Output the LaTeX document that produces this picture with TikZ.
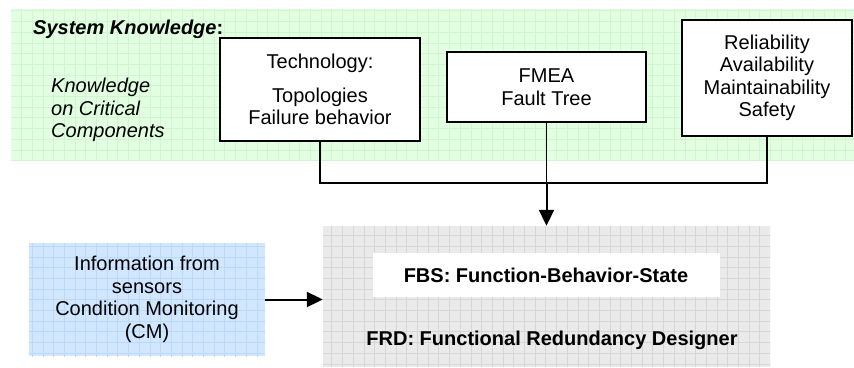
\documentclass[tikz,border=0pt]{standalone}
\usepackage{fontspec}
\setmainfont{Liberation Sans}
\usetikzlibrary{arrows.meta}
\definecolor{greenbg}{RGB}{226,255,226}
\definecolor{greengrid}{RGB}{208,246,208}
\definecolor{bluebg}{RGB}{208,231,255}
\definecolor{bluegrid}{RGB}{188,217,250}
\definecolor{graybg}{RGB}{234,234,234}
\definecolor{graygrid}{RGB}{214,214,214}
\tikzset{
  txt/.style={font=\fontsize{20}{22.5}\selectfont, inner sep=0pt},
  infobox/.style={draw=black, line width=2pt, fill=white, align=center, txt},
  conn/.style={line width=1.5pt},
  arr/.style={line width=2pt, -{Triangle[length=16pt,width=15pt]}},
  gridline/.style={line width=0.6pt},
}
\begin{document}
\begin{tikzpicture}[x=1pt,y=-1pt]
\useasboundingbox (0,0) rectangle (854,367);
% green background region
\fill[greenbg] (11,9) rectangle (854,160);
\begin{scope}
\clip (11,9) rectangle (854,160);
\foreach \i in {0,...,80} {\draw[greengrid, gridline] (10.7*\i,0) -- (10.7*\i,170);}
\foreach \i in {0,...,15} {\draw[greengrid, gridline] (0,10.7*\i) -- (860,10.7*\i);}
\end{scope}
% blue region
\node[fill=bluebg, minimum width=236pt, minimum height=113pt, inner sep=0pt] (blue) at (147,299.5) {};
\begin{scope}
\clip (29,243) rectangle (265,356);
\foreach \i in {0,...,26} {\draw[bluegrid, gridline] (10.7*\i,230) -- (10.7*\i,367);}
\foreach \i in {22,...,34} {\draw[bluegrid, gridline] (0,10.7*\i) -- (280,10.7*\i);}
\end{scope}
\node[txt, align=center] at (blue.center) {Information from\\sensors\\Condition Monitoring\\(CM)};
% gray region
\node[fill=graybg, minimum width=447pt, minimum height=141pt, inner sep=0pt] (gray) at (546.5,296.5) {};
\begin{scope}
\clip (323,226) rectangle (770,367);
\foreach \i in {30,...,73} {\draw[graygrid, gridline] (10.7*\i,220) -- (10.7*\i,367);}
\foreach \i in {21,...,35} {\draw[graygrid, gridline] (320,10.7*\i) -- (780,10.7*\i);}
\end{scope}
\node[fill=white, minimum width=347pt, minimum height=44pt, inner sep=0pt] (fbsbox) at (546.5,275) {};
\node[txt, font=\fontsize{20}{22.5}\selectfont\bfseries, anchor=base] (fbs) at (546,282) {FBS: Function-Behavior-State};
\node[txt, font=\fontsize{20}{22.5}\selectfont\bfseries, anchor=base] (frd) at (552,345) {FRD: Functional Redundancy Designer};
% titles
\node[txt, anchor=base west] (title) at (33,34) {\bfseries\itshape System Knowledge\upshape:};
\node[txt, anchor=north west, align=left, font=\fontsize{20}{22.5}\selectfont\itshape] (crit) at (51,78) {Knowledge\\on Critical\\Components};
% boxes
\node[infobox, minimum width=200pt, minimum height=103pt] (tech) at (320,89.5) {Technology:\\[11pt]Topologies\\Failure behavior};
\node[infobox, minimum width=199pt, minimum height=70pt] (fmea) at (546.5,87) {FMEA\\Fault Tree};
\node[infobox, minimum width=170pt, minimum height=116pt] (rams) at (767,78) {Reliability\\Availability\\Maintainability\\Safety};
% connectors
\coordinate (j) at (fmea.south |- 0,183);
\draw[conn] (tech.south) |- (j);
\draw[conn] (rams.south) |- (j);
\draw[conn] (fmea.south) -- (j);
\draw[arr] (j) -- (fmea.south |- gray.north);
\draw[arr] (blue.east) -- (gray.west |- blue.east);
\end{tikzpicture}
\end{document}
